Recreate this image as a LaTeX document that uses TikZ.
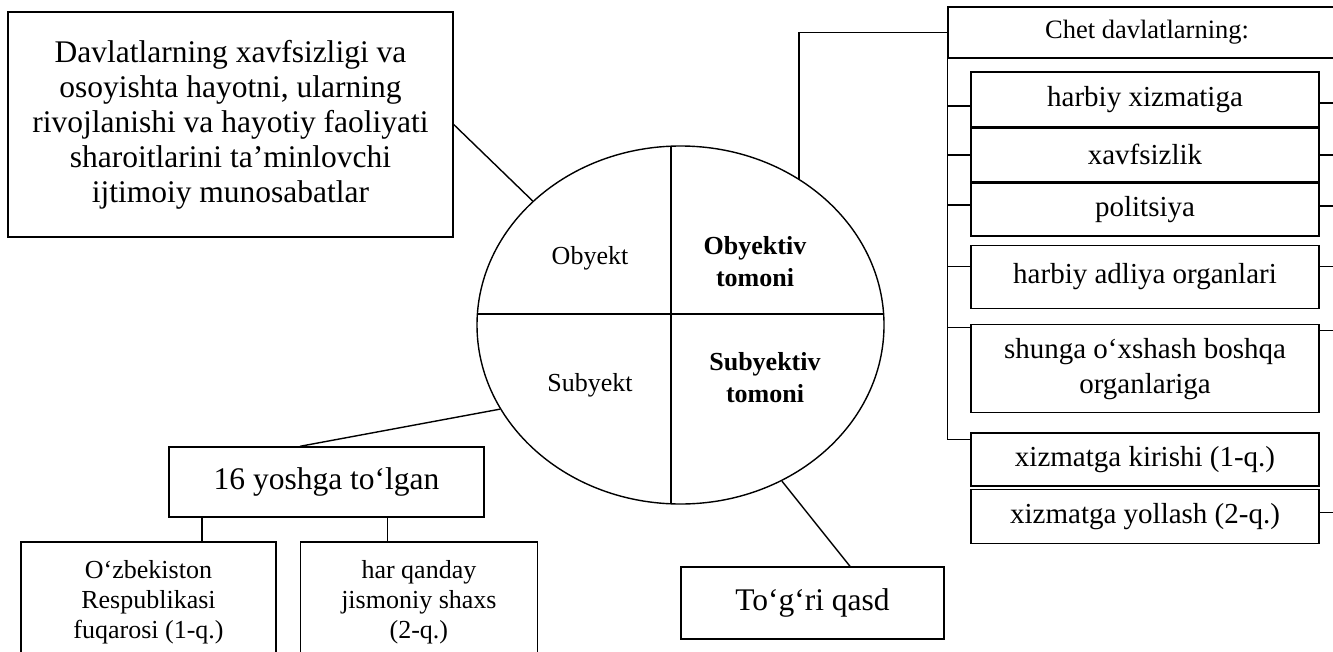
\documentclass[tikz,border=0pt]{standalone}
\usepackage{fontspec}
\setmainfont{Liberation Serif}
\usepackage{tikz}
\usetikzlibrary{shapes.geometric,positioning}

\begin{document}
\begin{tikzpicture}[
  x=1bp, y=-1bp,
  box/.style={draw, line width=1.4bp, inner sep=0pt, align=center},
  conn/.style={line width=1.4bp},
  bigtxt/.style={font=\fontsize{31.5bp}{35bp}\selectfont},
  midtxt/.style={font=\fontsize{29bp}{35bp}\selectfont},
  smltxt/.style={font=\fontsize{26bp}{30bp}\selectfont},
  qtxt/.style={align=center, inner sep=0pt, font=\fontsize{26bp}{32bp}\selectfont},
  rbox/.style={box, midtxt, minimum width=348bp}
]
\useasboundingbox (0,0) rectangle (1333,652);

\node[box, bigtxt, minimum width=445bp, minimum height=225bp] (obj) at (230.5,124.5) {Davlatlarning xavfsizligi va\\osoyishta hayotni, ularning\\rivojlanishi va hayotiy faoliyati\\sharoitlarini ta’minlovchi\\ijtimoiy munosabatlar};

\node[draw, ellipse, line width=1.4bp, inner sep=0pt, minimum width=407bp, minimum height=358bp] (circ) at (680.5,325) {};
\coordinate (hl) at (477.4,314);
\coordinate (hr) at (883.6,314);
\coordinate (vt) at (671,146.2);
\coordinate (vb) at (671,503.8);
\draw[conn] (hl) -- (hr);
\draw[conn] (vt) -- (vb);

\node[qtxt] (obyekt) at (590,258) {Obyekt};
\node[qtxt] (obyt) at (755,262) {\textbf{Obyektiv}\\\textbf{tomoni}};
\node[qtxt] (subyekt) at (590,385) {Subyekt};
\node[qtxt] (subt) at (765,378) {\textbf{Subyektiv}\\\textbf{tomoni}};

\node[box, font=\fontsize{26.5bp}{30bp}\selectfont, minimum width=398bp, minimum height=51bp] (chet) at (1147,32.5) {Chet davlatlarning:};
\node[rbox, minimum height=55bp] (b1) at (1145,99.5) {harbiy xizmatiga};
\node[rbox, minimum height=53bp, below=0bp of b1] (b2) {xavfsizlik};
\node[rbox, minimum height=53bp, below=0bp of b2] (b3) {politsiya};
\node[rbox, minimum height=63bp, below=8bp of b3] (b4) {harbiy adliya organlari};
\node[rbox, minimum height=88bp, below=15bp of b4] (b5) {shunga o‘xshash boshqa\\organlariga};
\node[rbox, minimum height=53bp, below=19bp of b5] (b6) {xizmatga kirishi (1-q.)};
\node[rbox, minimum height=54bp, below=2bp of b6] (b7) {xizmatga yollash (2-q.)};

\node[box, bigtxt, minimum width=315bp, minimum height=70bp] (yosh) at (326.5,482) {16 yoshga to‘lgan};
\node[box, smltxt, minimum width=255bp, minimum height=120bp] (uzb) at (148.5,602) {O‘zbekiston\\Respublikasi\\fuqarosi (1-q.)};
\node[box, smltxt, minimum width=237bp, minimum height=120bp, right=23bp of uzb] (har) {har qanday\\jismoniy shaxs\\(2-q.)};

\node[box, bigtxt, minimum width=263bp, minimum height=72bp] (qasd) at (812.5,603) {To‘g‘ri qasd};

\draw[conn] (obj.east) -- (circ.140);
\draw[conn] (circ.51) |- (chet.west);
\draw[conn] (circ.205) -- ([xshift=-26.5bp]yosh.north);
\draw[conn] (circ.303) -- ([xshift=37.5bp]qasd.north);
\draw[conn] ([xshift=53.5bp]uzb.north) -- ([xshift=53.5bp]uzb.north |- yosh.south);
\draw[conn] ([xshift=-31.5bp]har.north) -- ([xshift=-31.5bp]har.north |- yosh.south);

\draw[conn] (chet.south west) |- ([yshift=-7bp]b6.north west);
\draw[conn] ([yshift=-6.5bp]b1.west) -- ([yshift=-6.5bp]b1.west -| chet.west);
\draw[conn] (b2.west) -- (b2.west -| chet.west);
\draw[conn] ([yshift=4.5bp]b3.west) -- ([yshift=4.5bp]b3.west -| chet.west);
\draw[conn] ([yshift=10.5bp]b4.west) -- ([yshift=10.5bp]b4.west -| chet.west);
\draw[conn] ([yshift=41bp]b5.west) -- ([yshift=41bp]b5.west -| chet.west);
\draw[conn] ([yshift=-3.5bp]b1.east) -- ([yshift=-3.5bp]b1.east -| chet.east);
\draw[conn] (b2.east) -- (b2.east -| chet.east);
\draw[conn] ([yshift=3.5bp]b3.east) -- ([yshift=3.5bp]b3.east -| chet.east);
\draw[conn] ([yshift=10.5bp]b4.east) -- ([yshift=10.5bp]b4.east -| chet.east);
\draw[conn] ([yshift=38bp]b5.east) -- ([yshift=38bp]b5.east -| chet.east);
\draw[conn] ([yshift=4bp]b7.east) -- ([yshift=4bp]b7.east -| chet.east);
\end{tikzpicture}
\end{document}
